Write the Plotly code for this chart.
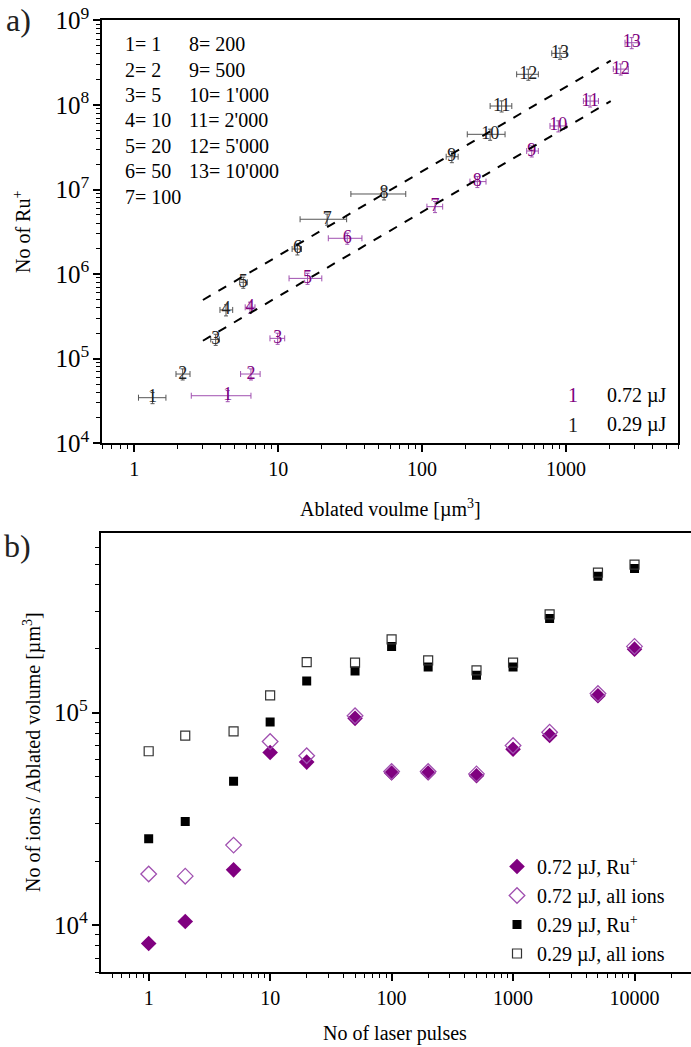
import plotly.graph_objects as go

# ---------------- panel a) data ----------------
labels = [str(i) for i in range(1, 14)]

# 0.29 uJ (black)
blk_x = [1.34, 2.17, 3.68, 4.34, 5.72, 13.6, 21.9, 54.4, 161, 297, 357, 547, 908]
blk_y = [3.46e4, 6.59e4, 1.69e5, 3.77e5, 8.0e5, 1.98e6, 4.45e6, 8.85e6, 2.44e7, 4.49e7, 9.7e7, 2.3e8, 4.07e8]
blk_xlo = [1.07, 1.95, 3.4, 3.94, 5.4, 12.5, 14.2, 32, 147, 206, 297, 454, 796]
blk_xhi = [1.66, 2.44, 3.9, 4.83, 6.1, 14.5, 29.9, 77, 178, 377, 420, 642, 1010]

# 0.72 uJ (purple)
pur_x = [4.46, 6.47, 9.92, 6.37, 16.0, 30.2, 123, 242, 578, 884, 1470, 2400, 2860]
pur_y = [3.65e4, 6.59e4, 1.74e5, 4.05e5, 8.9e5, 2.65e6, 6.27e6, 1.24e7, 2.85e7, 5.64e7, 1.11e8, 2.65e8, 5.43e8]
pur_xlo = [2.49, 5.48, 8.77, 5.9, 11.9, 22.3, 108, 215, 533, 774, 1320, 2130, 2570]
pur_xhi = [6.47, 7.49, 11.1, 6.9, 20.1, 38.2, 139, 278, 642, 1010, 1680, 2710, 3180]

# dashed fit lines
fit_x = [3.0, 2045]
fit_up_y = [4.94e5, 3.33e8]
fit_lo_y = [1.63e5, 1.11e8]

table_col1 = ["1= 1", "2= 2", "3= 5", "4= 10", "5= 20", "6= 50", "7= 100"]
table_col2 = ["8= 200", "9= 500", "10= 1'000", "11= 2'000", "12= 5'000", "13= 10'000"]

# ---------------- panel b) data ----------------
pulses = [1, 2, 5, 10, 20, 50, 100, 200, 500, 1000, 2000, 5000, 10000]
e072_ru = [8190, 10400, 18200, 64900, 58500, 94000, 52000, 52000, 50500, 67300, 78000, 120000, 199000]
e072_all = [17400, 17000, 23800, 73100, 62700, 96600, 52800, 52800, 51500, 70000, 80900, 123000, 205000]
e029_ru = [25500, 30700, 47500, 90400, 141000, 157000, 205000, 164000, 150000, 164000, 277000, 438000, 477000]
e029_all = [65800, 78000, 81700, 120700, 173000, 172000, 221000, 176000, 158000, 172000, 290000, 456000, 497000]

PURPLE = "#800080"
PURPLE_L = "#a050b0"
FONT = "Liberation Serif"

W, H = 691, 1047


def px_x(p):
    return p / W


def px_y(p):
    return 1 - p / H


fig = go.Figure()


def minus(c, lo):
    return [a - b for a, b in zip(c, lo)]


def plus(c, hi):
    return [b - a for a, b in zip(c, hi)]


# black series
fig.add_trace(go.Scatter(
    x=blk_x, y=blk_y, mode="text", text=labels, textposition="middle center",
    textfont=dict(family=FONT, size=18, color="#222222"),
    error_x=dict(type="data", symmetric=False, array=plus(blk_x, blk_xhi),
                 arrayminus=minus(blk_x, blk_xlo), color="#555555", thickness=1, width=3),
    error_y=dict(type="percent", value=15, color="#555555", thickness=1, width=2),
    xaxis="x", yaxis="y", showlegend=False, hoverinfo="skip"))

# purple series
fig.add_trace(go.Scatter(
    x=pur_x, y=pur_y, mode="text", text=labels, textposition="middle center",
    textfont=dict(family=FONT, size=18, color=PURPLE),
    error_x=dict(type="data", symmetric=False, array=plus(pur_x, pur_xhi),
                 arrayminus=minus(pur_x, pur_xlo), color=PURPLE_L, thickness=1, width=3),
    error_y=dict(type="percent", value=15, color=PURPLE_L, thickness=1, width=2),
    xaxis="x", yaxis="y", showlegend=False, hoverinfo="skip"))

for fy in (fit_up_y, fit_lo_y):
    fig.add_trace(go.Scatter(x=fit_x, y=fy, mode="lines",
                             line=dict(color="black", width=2, dash="dash"),
                             xaxis="x", yaxis="y", showlegend=False, hoverinfo="skip"))

# ---------------- panel b traces ----------------
fig.add_trace(go.Scatter(x=pulses, y=e072_ru, mode="markers", name="0.72 µJ, Ru<sup>+</sup>",
                         marker=dict(symbol="diamond", size=12, color=PURPLE, line=dict(width=0)),
                         xaxis="x2", yaxis="y2"))
fig.add_trace(go.Scatter(x=pulses, y=e072_all, mode="markers", name="0.72 µJ, all ions",
                         marker=dict(symbol="diamond-open", size=12, color=PURPLE_L, line=dict(width=1.3)),
                         xaxis="x2", yaxis="y2"))
fig.add_trace(go.Scatter(x=pulses, y=e029_ru, mode="markers", name="0.29 µJ, Ru<sup>+</sup>",
                         marker=dict(symbol="square", size=9, color="black", line=dict(width=0)),
                         xaxis="x2", yaxis="y2"))
fig.add_trace(go.Scatter(x=pulses, y=e029_all, mode="markers", name="0.29 µJ, all ions",
                         marker=dict(symbol="square-open", size=9, color="#333333", line=dict(width=1.2)),
                         xaxis="x2", yaxis="y2"))

axis_common = dict(type="log", showgrid=False, zeroline=False, showline=True, linecolor="black",
                   linewidth=2, mirror=True, ticks="outside", ticklen=7, tickwidth=1.5,
                   tickcolor="black", dtick=1, automargin=False,
                   tickfont=dict(family=FONT, size=20, color="black"),
                   minor=dict(ticks="outside", ticklen=4, tickwidth=1.2, tickcolor="black",
                              dtick="D1", showgrid=False))

fig.update_layout(
    width=W, height=H, margin=dict(l=0, r=0, t=0, b=0, autoexpand=False),
    paper_bgcolor="white", plot_bgcolor="white",
    font=dict(family=FONT, size=20, color="black"),
    xaxis=dict(axis_common, domain=[px_x(102.3), px_x(678)], range=[-0.222, 3.778],
               tickformat="d", anchor="y"),
    yaxis=dict(axis_common, domain=[px_y(443.3), px_y(20.3)], range=[4, 9],
               exponentformat="power", anchor="x"),
    xaxis2=dict(axis_common, domain=[px_x(100.7), 1.0], range=[-0.395, 4.465],
                tickformat="d", anchor="y2"),
    yaxis2=dict(axis_common, domain=[px_y(972.3), px_y(533.3)], range=[3.778, 5.844],
                exponentformat="power", anchor="x2"),
    legend=dict(x=px_x(497), y=px_y(847), xanchor="left", yanchor="top",
                bgcolor="rgba(0,0,0,0)", font=dict(family=FONT, size=20, color="black"),
                tracegroupgap=0, itemwidth=30),
)

ann = []
# table
for i, t in enumerate(table_col1):
    ann.append(dict(x=px_x(123), y=px_y(44.3 + 25.4 * i), text=t, xanchor="left", yanchor="middle"))
for i, t in enumerate(table_col2):
    ann.append(dict(x=px_x(187), y=px_y(44.3 + 25.4 * i), text=t, xanchor="left", yanchor="middle"))
# inner legend of panel a
ann.append(dict(x=px_x(573), y=px_y(395), text="1", font=dict(color=PURPLE, size=20, family=FONT),
                xanchor="center", yanchor="middle"))
ann.append(dict(x=px_x(605), y=px_y(395), text="0.72 µJ", xanchor="left", yanchor="middle"))
ann.append(dict(x=px_x(573), y=px_y(425), text="1", font=dict(color="#222222", size=20, family=FONT),
                xanchor="center", yanchor="middle"))
ann.append(dict(x=px_x(605), y=px_y(425), text="0.29 µJ", xanchor="left", yanchor="middle"))
# axis titles
ann.append(dict(x=px_x(390), y=px_y(508), text="Ablated voulme [µm<sup>3</sup>]",
                xanchor="center", yanchor="middle"))
ann.append(dict(x=px_x(22), y=px_y(232), text="No of Ru<sup>+</sup>", textangle=-90,
                xanchor="center", yanchor="middle"))
ann.append(dict(x=px_x(395), y=px_y(1033), text="No of laser pulses",
                xanchor="center", yanchor="middle"))
ann.append(dict(x=px_x(32), y=px_y(752), text="No of ions / Ablated volume [µm<sup>3</sup>]",
                textangle=-90, xanchor="center", yanchor="middle"))
# panel labels
ann.append(dict(x=px_x(4), y=px_y(20), text="a)", font=dict(size=32, family=FONT, color="#222222"),
                xanchor="left", yanchor="middle"))
ann.append(dict(x=px_x(2), y=px_y(546), text="b)", font=dict(size=32, family=FONT, color="#222222"),
                xanchor="left", yanchor="middle"))

for a in ann:
    a.setdefault("font", dict(family=FONT, size=20, color="black"))
    a.update(xref="paper", yref="paper", showarrow=False)
fig.update_layout(annotations=ann)

fig.write_html("out.html", config={"displayModeBar": False},
               post_script="document.body.style.margin='0';document.body.style.overflow='hidden';")
